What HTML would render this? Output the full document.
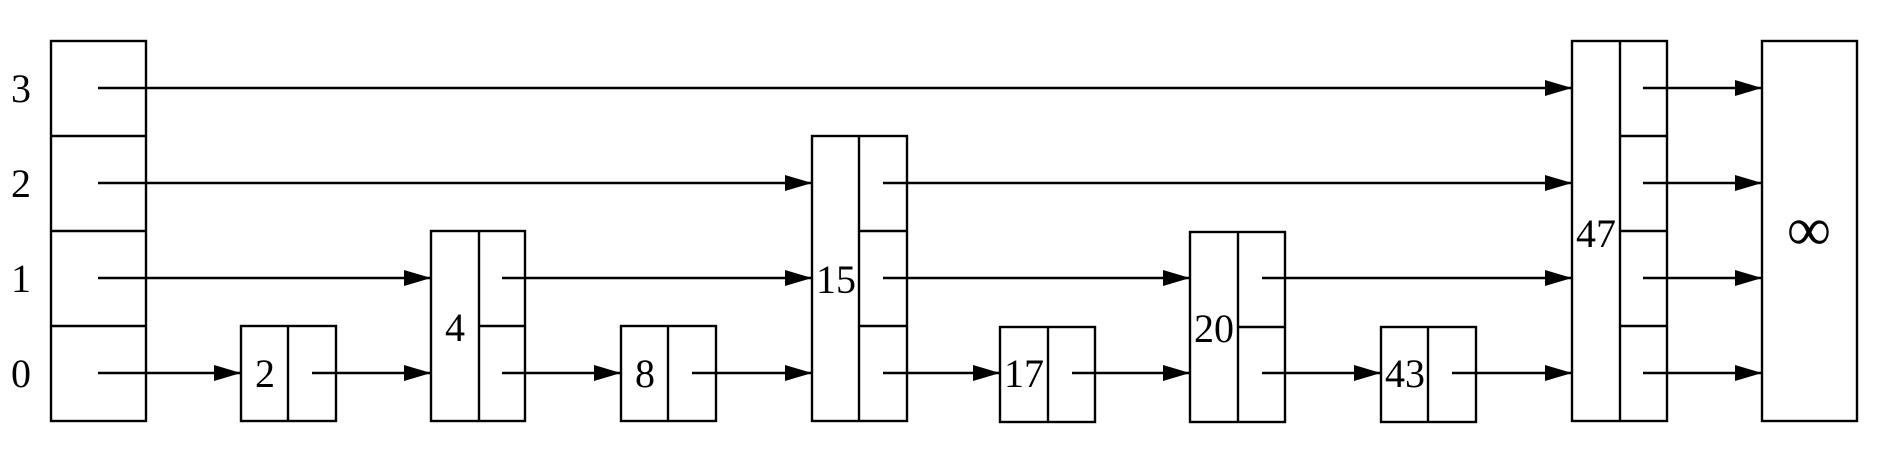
<!DOCTYPE html>
<html><head><meta charset="utf-8"><style>
html,body{margin:0;padding:0;background:#fff;}
svg{display:block;}
text{font-family:"Liberation Serif",serif;font-size:40px;fill:#000;}
</style></head><body>
<svg width="1877" height="452" viewBox="0 0 1877 452" xmlns="http://www.w3.org/2000/svg">
<defs><marker id="a" markerWidth="27" markerHeight="16" refX="27" refY="8" orient="auto" markerUnits="userSpaceOnUse"><path d="M0,0 L27,8 L0,16 z" fill="#000"/></marker></defs>
<g fill="none" stroke="#000" stroke-width="2.4">
<rect x="51" y="41" width="95" height="380"/>
<line x1="51" y1="136" x2="146" y2="136"/><line x1="51" y1="231" x2="146" y2="231"/><line x1="51" y1="326" x2="146" y2="326"/>
<rect x="241" y="326" width="95" height="95"/><line x1="288" y1="326" x2="288" y2="421"/>
<rect x="431" y="231" width="94" height="190"/><line x1="479" y1="231" x2="479" y2="421"/><line x1="479" y1="326" x2="525" y2="326"/>
<rect x="621" y="326" width="95" height="95"/><line x1="668" y1="326" x2="668" y2="421"/>
<rect x="812" y="136" width="95" height="285"/><line x1="859" y1="136" x2="859" y2="421"/><line x1="859" y1="231" x2="907" y2="231"/><line x1="859" y1="326" x2="907" y2="326"/>
<rect x="1000" y="327" width="95" height="95"/><line x1="1048" y1="327" x2="1048" y2="422"/>
<rect x="1190" y="232" width="95" height="190"/><line x1="1238" y1="232" x2="1238" y2="422"/><line x1="1238" y1="327" x2="1285" y2="327"/>
<rect x="1381" y="327" width="95" height="95"/><line x1="1428" y1="327" x2="1428" y2="422"/>
<rect x="1572" y="41" width="95" height="380"/><line x1="1620" y1="41" x2="1620" y2="421"/><line x1="1620" y1="136" x2="1667" y2="136"/><line x1="1620" y1="231" x2="1667" y2="231"/><line x1="1620" y1="326" x2="1667" y2="326"/>
<rect x="1762" y="41" width="95" height="380"/>
</g>
<g stroke="#000" stroke-width="2.4" marker-end="url(#a)">
<line x1="98" y1="88" x2="1572" y2="88"/>
<line x1="98" y1="183" x2="812" y2="183"/>
<line x1="98" y1="278" x2="431" y2="278"/>
<line x1="98" y1="373" x2="241" y2="373"/>
<line x1="312" y1="373" x2="431" y2="373"/>
<line x1="502" y1="278" x2="812" y2="278"/>
<line x1="502" y1="373" x2="621" y2="373"/>
<line x1="692" y1="373" x2="812" y2="373"/>
<line x1="883" y1="183" x2="1572" y2="183"/>
<line x1="883" y1="278" x2="1190" y2="278"/>
<line x1="883" y1="373" x2="1000" y2="373"/>
<line x1="1072" y1="373" x2="1190" y2="373"/>
<line x1="1262" y1="278" x2="1572" y2="278"/>
<line x1="1262" y1="373" x2="1381" y2="373"/>
<line x1="1452" y1="373" x2="1572" y2="373"/>
<line x1="1643" y1="88" x2="1762" y2="88"/>
<line x1="1643" y1="183" x2="1762" y2="183"/>
<line x1="1643" y1="278" x2="1762" y2="278"/>
<line x1="1643" y1="373" x2="1762" y2="373"/>
</g>
<g text-anchor="middle">
<text x="21" y="102">3</text><text x="21" y="197">2</text><text x="21" y="292">1</text><text x="21" y="387">0</text>
<text x="265" y="387">2</text>
<text x="455" y="341">4</text>
<text x="645" y="387">8</text>
<text x="836" y="293">15</text>
<text x="1024" y="387">17</text>
<text x="1214" y="342">20</text>
<text x="1596" y="247">47</text>
<text x="1405" y="387">43</text>
<text x="1809" y="250" style="font-size:62px">∞</text>
</g>
</svg>
</body></html>
